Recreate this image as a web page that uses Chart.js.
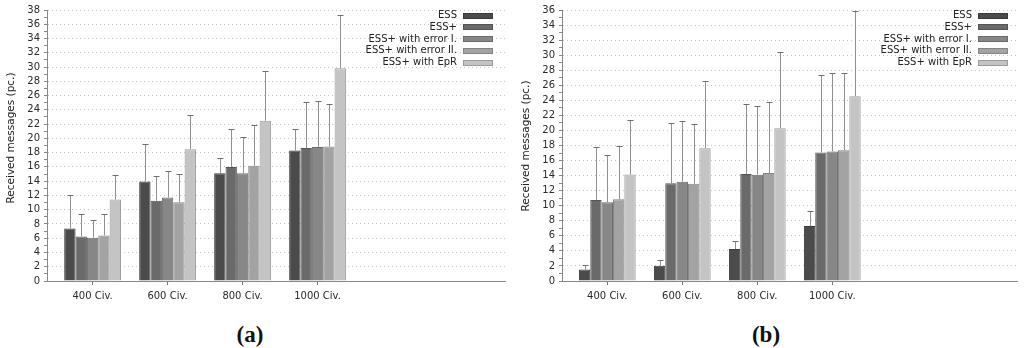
<!DOCTYPE html>
<html>
<head>
<meta charset="utf-8">
<script src="https://cdn.jsdelivr.net/npm/chart.js@4/dist/chart.umd.min.js"></script>
<style>
  html, body { margin: 0; padding: 0; background: #fff; width: 1024px; height: 348px; overflow: hidden; }
  .wrap { position: absolute; top: 0; width: 512px; height: 300px; }
  .cap { position: absolute; top: 322px; font-family: "Liberation Serif", "DejaVu Serif", serif; font-weight: bold; font-size: 23px; color: #111; transform: translateX(-50%); }
</style>
</head>
<body>
<div class="wrap" style="left:0"><canvas id="ca" width="512" height="300"></canvas></div>
<div class="wrap" style="left:512px"><canvas id="cb" width="512" height="300"></canvas></div>
<div class="cap" style="left:250px">(a)</div>
<div class="cap" style="left:766px">(b)</div>
<script>
// ---- data ----
const categories = ['400 Civ.', '600 Civ.', '800 Civ.', '1000 Civ.'];
const seriesNames = ['ESS', 'ESS+', 'ESS+ with error I.', 'ESS+ with error II.', 'ESS+ with EpR'];

// panel (a): means and upper error-bar ends
const a_ESS     = [7.35, 13.96, 15.1, 18.3];
const a_ESSp    = [6.25, 11.25, 16.0, 18.65];
const a_err1    = [6.07, 11.7, 15.1, 18.8];
const a_err2    = [6.38, 11.05, 16.15, 18.85];
const a_EpR     = [11.43, 18.49, 22.47, 29.83];
const a_ESS_hi  = [12.0, 19.28, 17.29, 21.36];
const a_ESSp_hi = [9.34, 14.79, 21.36, 25.06];
const a_err1_hi = [8.55, 15.44, 20.25, 25.2];
const a_err2_hi = [9.43, 15.02, 21.9, 24.87];
const a_EpR_hi  = [14.93, 23.25, 29.45, 37.36];

// panel (b)
const b_ESS     = [1.52, 2.02, 4.26, 7.29];
const b_ESSp    = [10.77, 12.97, 14.2, 17.08];
const b_err1    = [10.46, 13.19, 14.13, 17.2];
const b_err2    = [10.86, 12.92, 14.35, 17.38];
const b_EpR     = [14.15, 17.63, 20.28, 24.54];
const b_ESS_hi  = [2.1, 2.73, 5.27, 9.3];
const b_ESSp_hi = [17.8, 20.97, 23.57, 27.3];
const b_err1_hi = [16.75, 21.23, 23.3, 27.57];
const b_err2_hi = [18.0, 20.92, 23.84, 27.66];
const b_EpR_hi  = [21.36, 26.6, 30.42, 35.9];

const fills   = ['#4b4b4b', '#6a6a6a', '#878787', '#a3a3a3', '#c4c4c4'];
const borders = ['#3a3a3a', '#545454', '#6a6a6a', '#848484', '#9a9a9a'];
const FONT = '"DejaVu Sans", Verdana, sans-serif';

function makeDatasets(means, highs) {
  return means.map((arr, i) => ({
    label: seriesNames[i],
    data: arr.map((v, j) => ({ x: j, y: v })),
    hi: highs[i],
    backgroundColor: fills[i],
    borderColor: borders[i],
    borderWidth: 1,
    categoryPercentage: 0.757,
    barPercentage: 1.0
  }));
}

const errorBars = {
  id: 'errorBars',
  afterDatasetsDraw(chart) {
    const ctx = chart.ctx, ys = chart.scales.y;
    ctx.save();
    chart.data.datasets.forEach((ds, di) => {
      const meta = chart.getDatasetMeta(di);
      meta.data.forEach((bar, j) => {
        const x = Math.round(bar.x) + 0.5;
        const yTop = Math.round(ys.getPixelForValue(ds.hi[j])) + 0.5;
        ctx.strokeStyle = '#909090';
        ctx.lineWidth = 1;
        ctx.beginPath();
        ctx.moveTo(x, bar.y);
        ctx.lineTo(x, yTop);
        ctx.stroke();
        ctx.strokeStyle = '#6e6e6e';
        ctx.beginPath();
        ctx.moveTo(x - 3, yTop);
        ctx.lineTo(x + 3, yTop);
        ctx.stroke();
      });
    });
    ctx.restore();
  }
};

const legendAndTitle = {
  id: 'legendAndTitle',
  afterDraw(chart) {
    const o = chart.options.plugins.legendAndTitle;
    const ctx = chart.ctx;
    ctx.save();
    ctx.font = '10px ' + FONT;
    ctx.textAlign = 'right';
    ctx.textBaseline = 'middle';
    chart.data.datasets.forEach((ds, i) => {
      const y = 15.7 + i * 11.7;
      ctx.fillStyle = '#222';
      ctx.fillText(ds.label, o.textRight, y);
      ctx.fillStyle = ds.backgroundColor;
      ctx.fillRect(o.textRight + 6, Math.round(y) - 3, 30, 6);
      ctx.strokeStyle = ds.borderColor;
      ctx.lineWidth = 1;
      ctx.strokeRect(o.textRight + 6.5, Math.round(y) - 2.5, 29, 5);
    });
    // y-axis title
    ctx.font = '10.5px ' + FONT;
    ctx.translate(o.titleX, o.titleY);
    ctx.rotate(-Math.PI / 2);
    ctx.textAlign = 'center';
    ctx.fillStyle = '#222';
    ctx.fillText('Received messages (pc.)', 0, 0);
    ctx.restore();
  }
};

function makeChart(id, datasets, yMax, xMin, xMax, left, right, legendRight, titleX, titleY) {
  return new Chart(document.getElementById(id), {
    type: 'bar',
    data: { datasets },
    options: {
      responsive: false,
      animation: false,
      layout: { padding: { left: 0, right: 512 - right, top: 7, bottom: 0 } },
      plugins: {
        legend: { display: false },
        tooltip: { enabled: false },
        legendAndTitle: { textRight: legendRight, titleX, titleY }
      },
      scales: {
        x: {
          type: 'linear',
          min: xMin, max: xMax,
          offset: false,
          afterFit(s) { s.height = 19; },
          afterBuildTicks(s) { s.ticks = categories.map((c, i) => ({ value: i })); },
          ticks: {
            callback: (v) => categories[v] ?? '',
            font: { family: FONT, size: 10 },
            color: '#2a2a2a',
            padding: 5,
            maxRotation: 0,
            autoSkip: false
          },
          grid: { drawOnChartArea: false, drawTicks: true, tickLength: 4, color: '#777', offset: false },
          border: { color: '#888', width: 1 }
        },
        y: {
          min: 0, max: yMax,
          afterFit(s) { s.width = left; },
          ticks: {
            stepSize: 1,
            autoSkip: false,
            callback: (v) => (v % 2 === 0 ? String(v) : ''),
            font: { family: FONT, size: 10 },
            color: '#2a2a2a',
            padding: 4
          },
          grid: {
            color: (c) => (c.tick && c.tick.value % 2 === 0 && c.tick.value !== 0 ? '#c6c6c6' : 'rgba(0,0,0,0)'),
            tickColor: '#888',
            tickLength: 3,
            lineWidth: 1
          },
          border: { color: '#888', width: 1, dash: [1, 3] }
        }
      }
    },
    plugins: [errorBars, legendAndTitle]
  });
}

makeChart('ca',
  makeDatasets([a_ESS, a_ESSp, a_err1, a_err2, a_EpR], [a_ESS_hi, a_ESSp_hi, a_err1_hi, a_err2_hi, a_EpR_hi]),
  38, -0.608, 5.5, 47, 505, 457, 11, 138);
makeChart('cb',
  makeDatasets([b_ESS, b_ESSp, b_err1, b_err2, b_EpR], [b_ESS_hi, b_ESSp_hi, b_err1_hi, b_err2_hi, b_EpR_hi]),
  36, -0.604, 5.463, 50, 505, 460, 14, 146);
</script>
</body>
</html>
